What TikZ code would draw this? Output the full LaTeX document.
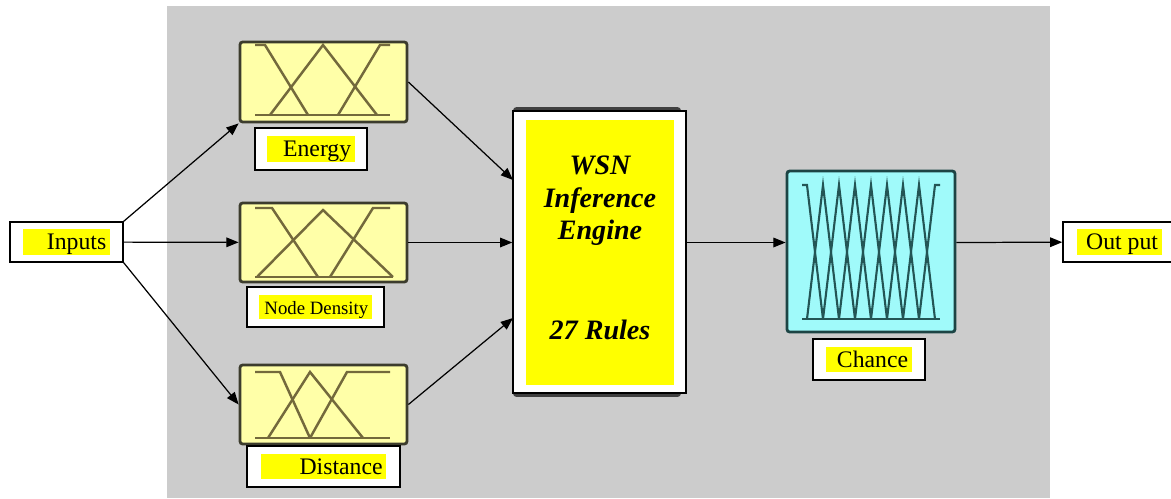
\documentclass[tikz,border=0pt]{standalone}
\usepackage{fontspec}
\setmainfont{Liberation Serif}
\newfontfamily\tnr{Liberation Serif}
\usetikzlibrary{arrows.meta}
\definecolor{bggray}{RGB}{204,204,204}
\definecolor{mfyellow}{RGB}{255,255,168}
\definecolor{mfcyan}{RGB}{160,250,250}
\definecolor{mfolive}{RGB}{115,105,60}
\definecolor{mfteal}{RGB}{35,85,85}
\definecolor{frame}{RGB}{60,60,45}
\definecolor{hlyellow}{RGB}{255,255,0}
% yellow highlight behind a label, optional lead space
\newcommand{\hl}[2][0pt]{{\setlength{\fboxsep}{0pt}\colorbox{hlyellow}{\hspace{#1}\rule[-2.5pt]{0pt}{14pt}#2\hspace{2pt}}}}
\begin{document}
\begin{tikzpicture}[x=0.02cm,y=-0.02cm,
  >={Triangle[length=7pt,width=5.5pt]},
  font=\tnr,
  mfbox/.style={draw=frame,line width=1.6pt,fill=mfyellow,rounded corners=1.5pt,minimum width=3.34cm,minimum height=1.6cm},
  lbl/.style={draw,fill=white,line width=0.8pt,inner sep=0pt,font=\tnr\fontsize{13.5}{16}\selectfont},
  mf/.style={mfolive,line width=1.4pt},
  mfc/.style={mfteal,line width=1.2pt}]
\useasboundingbox (0,0) rectangle (1171,498);
\fill[bggray] (167,6) rectangle (1050,498);
% input membership boxes
\node[mfbox] (en) at (323.5,82) {};
\node[mfbox,minimum height=1.58cm] (nd) at (323.5,242.5) {};
\node[mfbox,minimum height=1.58cm] (dist) at (323.5,404.5) {};
\draw[mf] (255,45) -- (265,45) -- (308,115);
\draw[mf] (270,115) -- (323,45) -- (377,115);
\draw[mf] (338,115) -- (380,45) -- (390,45);
\draw[mf] (255,115) -- (390,115);
\draw[mf] (255,208) -- (272,208) -- (318,277);
\draw[mf] (257,277) -- (323,210) -- (393,277);
\draw[mf] (330,277) -- (373,208) -- (390,208);
\draw[mf] (255,277) -- (393,277);
\draw[mf] (255,372) -- (280,372) -- (310,438);
\draw[mf] (268,438) -- (310,372) -- (363,438);
\draw[mf] (310,438) -- (347,372) -- (390,372);
\draw[mf] (255,438) -- (390,438);
\node[lbl,minimum width=2.24cm,minimum height=0.84cm] (enl) at (311,149) {\hl[9pt]{Energy}};
\node[lbl,minimum width=2.74cm,minimum height=0.8cm,font=\tnr\fontsize{10.7}{13}\selectfont] (ndl) at (315.5,307) {\hl[3pt]{Node Density}};
\node[lbl,minimum width=3.06cm,minimum height=0.82cm] (distl) at (323.5,466.5) {\hl[22pt]{Distance}};
% inference engine
\node[fill=black!75,rounded corners=2pt,minimum width=3.36cm,minimum height=5.8cm] (infback) at (597,252) {};
\node[draw,fill=white,line width=0.8pt,minimum width=3.46cm,minimum height=5.64cm] (inf) at (599.5,252) {};
\node[fill=hlyellow,minimum width=2.96cm,minimum height=5.3cm] (infcore) at (600,252.5) {};
\node[align=center,font=\tnr\bfseries\itshape\fontsize{16}{18.5}\selectfont] (inft) at (600,201) {WSN\\Inference\\Engine};
\node[font=\tnr\bfseries\itshape\fontsize{16}{18.5}\selectfont] (infr) at (600,330) {27 Rules};
\coordinate (infa) at (513,180);
\coordinate (infc) at (513,318);
% output membership box
\node[draw=mfteal!80!black,line width=1.6pt,fill=mfcyan,rounded corners=1.5pt,minimum width=3.36cm,minimum height=3.22cm] (ch) at (871,251.5) {};
\draw[mfc] (802,185) -- (807,185) -- (823,319);
\foreach \i in {1,...,7}
  \draw[mfc] ({807+16*\i-16},319) -- ({807+16*\i},185) -- ({807+16*\i+16},319);
\draw[mfc] (919,319) -- (935,185) -- (940,185);
\draw[mfc] (802,319) -- (940,319);
\node[lbl,minimum width=2.24cm,minimum height=0.82cm] (chl) at (869,359.5) {\hl[6pt]{Chance}};
% inputs and output
\node[lbl,minimum width=2.26cm,minimum height=0.8cm] (inp) at (66.5,242) {\hl[13.5pt]{Inputs}};
\node[lbl,minimum width=2.24cm,minimum height=0.8cm] (outp) at (1119,242) {\hl[5.5pt]{Out put}};
% connectors
\draw[->,line width=0.7pt] (inp.north east) -- (en.south west);
\draw[->,line width=0.7pt] (inp) -- (nd);
\draw[->,line width=0.7pt] (inp.south east) -- (dist.west);
\draw[->,line width=0.7pt] (en.east) -- (infa);
\draw[->,line width=0.7pt] (nd) -- (nd -| inf.west);
\draw[->,line width=0.7pt] (dist.east) -- (infc);
\draw[->,line width=0.7pt] (inf.east |- nd) -- (ch.west |- nd);
\draw[->,line width=0.7pt] (ch.east |- nd) -- (outp);
\end{tikzpicture}
\end{document}
